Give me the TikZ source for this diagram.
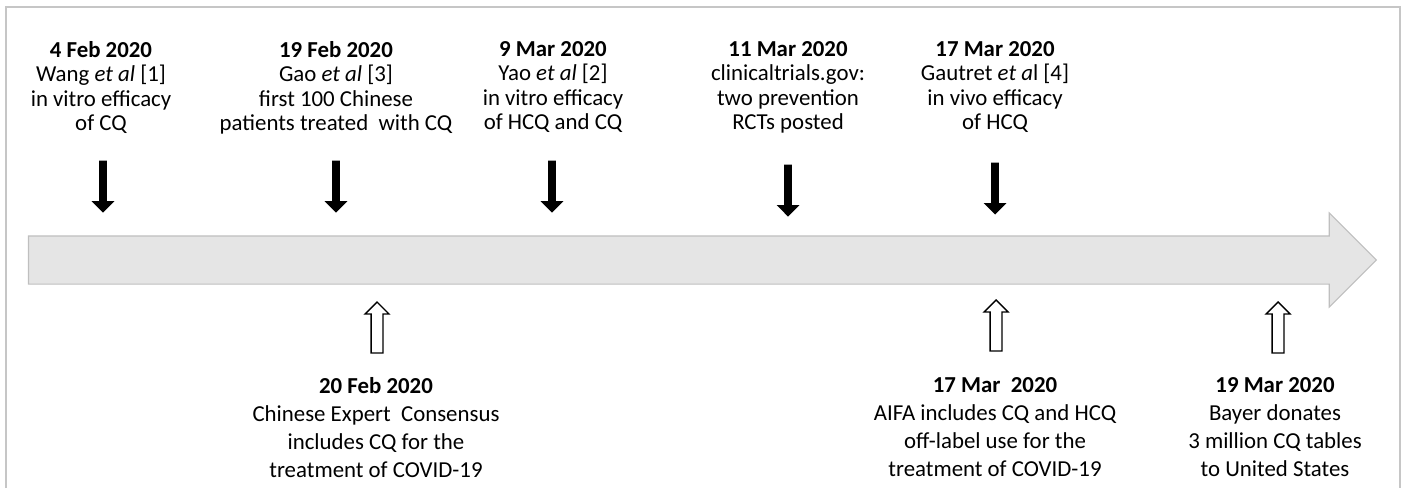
\documentclass[tikz,border=0pt]{standalone}
\usepackage{fontspec}
\setmainfont{Carlito}
\usetikzlibrary{shapes.arrows}
\tikzset{
  evtop/.style={align=center, anchor=north, inner sep=0pt, font=\fontsize{13}{13.9}\selectfont},
  evbot/.style={align=center, anchor=north, inner sep=0pt, font=\fontsize{13}{15.9}\selectfont},
  downarr/.style={single arrow, shape border rotate=270, fill=black, inner sep=0.07cm,
    minimum height=1.04cm, single arrow head extend=0.15cm, anchor=tip},
  uparr/.style={single arrow, shape border rotate=90, draw=black, fill=white, line width=0.8pt,
    inner sep=0.105cm, minimum height=1.02cm, single arrow head extend=0.12cm, anchor=tip},
}
\begin{document}
\begin{tikzpicture}[x=0.02cm, y=-0.02cm]
	\useasboundingbox (0,0) rectangle (1405,488);
	
	% khung
	\draw[gray!45, line width=0.6pt] (6,488) -- (6,7) -- (1400,7) -- (1400,488);
	
	% truc thoi gian
	\node[single arrow, fill=gray!20, draw=gray!50, line width=0.6pt, inner sep=0.47cm, minimum height=26.96cm, single arrow head extend=0.46cm, anchor=tip] (timeline) at (1377,260) {};
	
	% su kien phia tren
	\node[evtop] (ev1) at (101,41) {\textbf{4 Feb 2020}\\Wang \textit{et al} [1]\\in vitro efficacy\\of CQ};
	\node[evtop] (ev2) at (336,41) {\textbf{19 Feb 2020}\\Gao \textit{et al} [3]\\first 100 Chinese\\patients treated\ \ with CQ};
	\node[evtop] (ev3) at (553,41) {\textbf{9 Mar 2020}\\Yao \textit{et al} [2]\\in vitro efficacy\\of HCQ and CQ};
	\node[evtop] (ev4) at (788,41) {\textbf{11 Mar 2020}\\clinicaltrials.gov:\\two prevention\\RCTs posted};
	\node[evtop] (ev5) at (995,41) {\textbf{17 Mar 2020}\\Gautret \textit{et a}l [4]\\in vivo efficacy\\of HCQ};
	\node[downarr] (ar1) at (103,213) {};
	\node[downarr] (ar2) at (336,213) {};
	\node[downarr] (ar3) at (552,213) {};
	\node[downarr] (ar4) at (788,217) {};
	\node[downarr] (ar5) at (995,215) {};
	
	% su kien phia duoi
	\node[uparr] (ar6) at (377,301) {};
	\node[uparr] (ar7) at (996,299) {};
	\node[uparr] (ar8) at (1278,301) {};
	\node[evbot] (ev6) at (376,377) {\textbf{20 Feb 2020}\\Chinese Expert\ \ Consensus\\includes CQ for the\\treatment of COVID-19};
	\node[evbot] (ev7) at (995,377) {\textbf{17 Mar\ \ 2020}\\AIFA includes CQ and HCQ\\off-label use for the\\treatment of COVID-19};
	\node[evbot] (ev8) at (1275,377) {\textbf{19 Mar 2020}\\Bayer donates\\3 million CQ tables\\to United States};
\end{tikzpicture}
\end{document}
